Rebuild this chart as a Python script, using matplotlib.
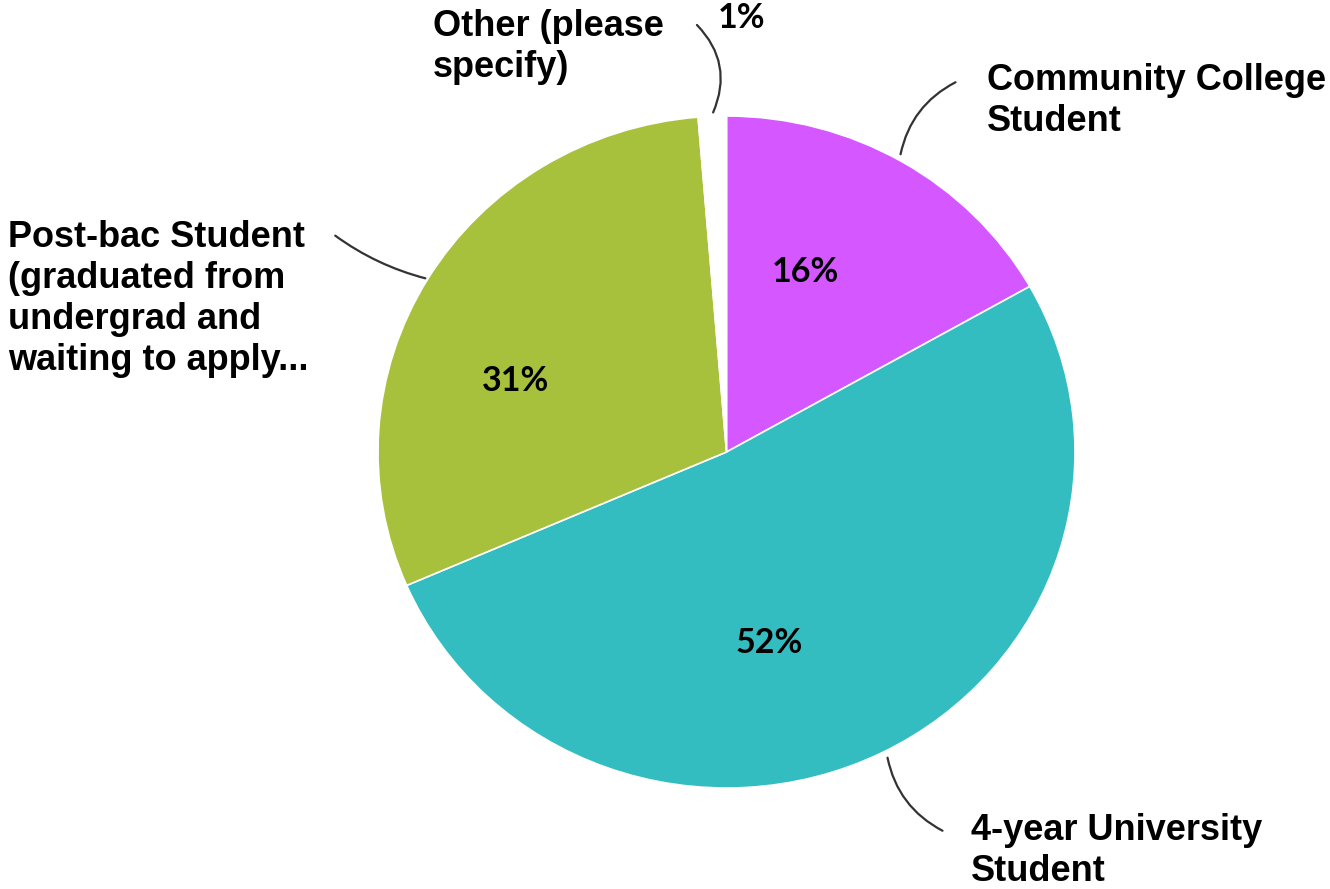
import matplotlib
matplotlib.use("Agg")
import matplotlib.pyplot as plt

categories = ["Community College\nStudent", "4-year University\nStudent",
              "Post-bac Student\n(graduated from\nundergrad and\nwaiting to apply...",
              "Other (please\nspecify)"]
shares = [16.8, 51.7, 30.2, 1.3]
pct_labels = ["16%", "52%", "31%", "1%"]
colors = ["#D457FF", "#33BDC1", "#A8C13D", "#FFFFFF"]

W, H = 1330, 889
RX, RY = 348.5, 336.0          # the reference pie is slightly squashed vertically
KY = RX / RY

def Y(py):
    return (H - py) * KY

fig = plt.figure(figsize=(W / 100, H / 100), dpi=100)
ax = fig.add_axes([0, 0, 1, 1])

cx, cy = 726.5, 452
ax.pie(shares, colors=colors, startangle=90, counterclock=False,
       center=(cx, Y(cy)), radius=RX, frame=True,
       wedgeprops=dict(edgecolor="white", linewidth=1.2))
ax.set_aspect("auto")
ax.set_xlim(0, W)
ax.set_ylim(0, H * KY)
ax.axis("off")

lab_font = dict(family="Liberation Sans", fontweight="bold", fontsize=26,
                color="black", ha="left", va="center", linespacing=1.22)
pct_font = dict(family="Lato", fontweight="bold", fontsize=24.5,
                color="black", ha="center", va="center")

# outer labels (centre of text block, y in pixels from top)
label_pos = [(987, 101), (971, 851), (8, 299), (433, 47)]
for txt, (x, y) in zip(categories, label_pos):
    ax.text(x, Y(y), txt, **lab_font)

pct_pos = [(805, 272), (769, 643), (516, 381), (742, 18)]
for txt, (x, y) in zip(pct_labels, pct_pos):
    ax.text(x, Y(y), txt, **pct_font)

# leader lines
leaders = [((900, 157), (958, 81), -0.25),
           ((887, 755), (945, 832), 0.25),
           ((428, 279), (333, 234), -0.1),
           ((712, 115), (695, 23), 0.35)]
for (x0, y0), (x1, y1), rad in leaders:
    ax.annotate("", xy=(x1, Y(y1)), xytext=(x0, Y(y0)),
                arrowprops=dict(arrowstyle="-", color="#333333", lw=1.6,
                                connectionstyle=f"arc3,rad={rad}"))

fig.savefig("out.png", dpi=100)
